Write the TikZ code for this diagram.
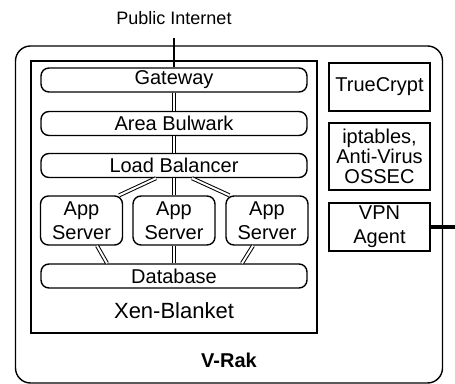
\documentclass[tikz,border=0pt]{standalone}
\usepackage{fontspec}
\setmainfont{Liberation Sans}
\begin{document}
\begin{tikzpicture}[x=0.5pt,y=-0.5pt,
    frame/.style={draw,line width=0.7pt,inner sep=0pt},
    layer/.style={frame,rounded corners=4pt,minimum width=133pt,minimum height=12pt},
    app/.style={frame,rounded corners=4pt,minimum width=41pt,minimum height=24.5pt,align=center},
    tool/.style={frame,minimum width=50.5pt,align=center},
    link/.style={double,double distance=1pt,line width=0.5pt}]
    \useasboundingbox (0,0) rectangle (455,384);
    %% Boxes
    \node[frame,rounded corners=7.5pt,minimum width=213.5pt,minimum height=168.5pt] (vrak) at (229,214.5) {};
    \node[frame,minimum width=143pt,minimum height=136pt] (xen) at (174,197) {};
    \node[layer] (gateway) at (174,80) {Gateway};
    \node[layer] (bulwark) at (174,123.5) {Area Bulwark};
    \node[layer] (balancer) at (174,165.5) {Load Balancer};
    \node[app] (appA) at (81.5,220.5) {App\\Server};
    \node[app] (appB) at (174,220.5) {App\\Server};
    \node[app] (appC) at (267,220.5) {App\\Server};
    \node[layer] (database) at (174,276) {Database};
    \node[tool,minimum height=24pt] (crypt) at (379.5,87) {TrueCrypt};
    \node[tool,minimum height=33.5pt,font=\fontsize{10}{10}\selectfont] (ossec) at (379.5,156.5) {iptables,\\Anti-Virus\\OSSEC};
    \node[tool,minimum height=24pt] (vpn) at (379.5,227) {VPN\\Agent};
    %% Labels
    \node[font=\fontsize{11}{13}\selectfont] (xenlabel) at (174,311) {Xen-Blanket};
    \node[font=\bfseries] (vraklabel) at (229,360) {V-Rak};
    \node[font=\fontsize{9}{11}\selectfont] (internet) at (174,18) {Public Internet};
    \coordinate (uplink) at (174,38);
    \coordinate (outlink) at (455,227);
    %% Links
    \draw[line width=0.7pt] (uplink) -- (gateway.north);
    \draw[line width=2pt] (vpn.east) -- (outlink);
    \draw[link] (gateway) -- (bulwark);
    \draw[link] (bulwark) -- (balancer);
    \draw[link] (balancer) -- (appB);
    \draw[link] ([xshift=-9pt]balancer.south) -- ([xshift=-2pt]appA.north east);
    \draw[link] ([xshift=9pt]balancer.south) -- ([xshift=2pt]appC.north west);
    \draw[link] (appB) -- (database);
    \draw[link] ([xshift=7.75pt]appA.south) -- ([xshift=-33.5pt]database.north);
    \draw[link] ([xshift=-7pt]appC.south) -- ([xshift=34pt]database.north);
\end{tikzpicture}
\end{document}
